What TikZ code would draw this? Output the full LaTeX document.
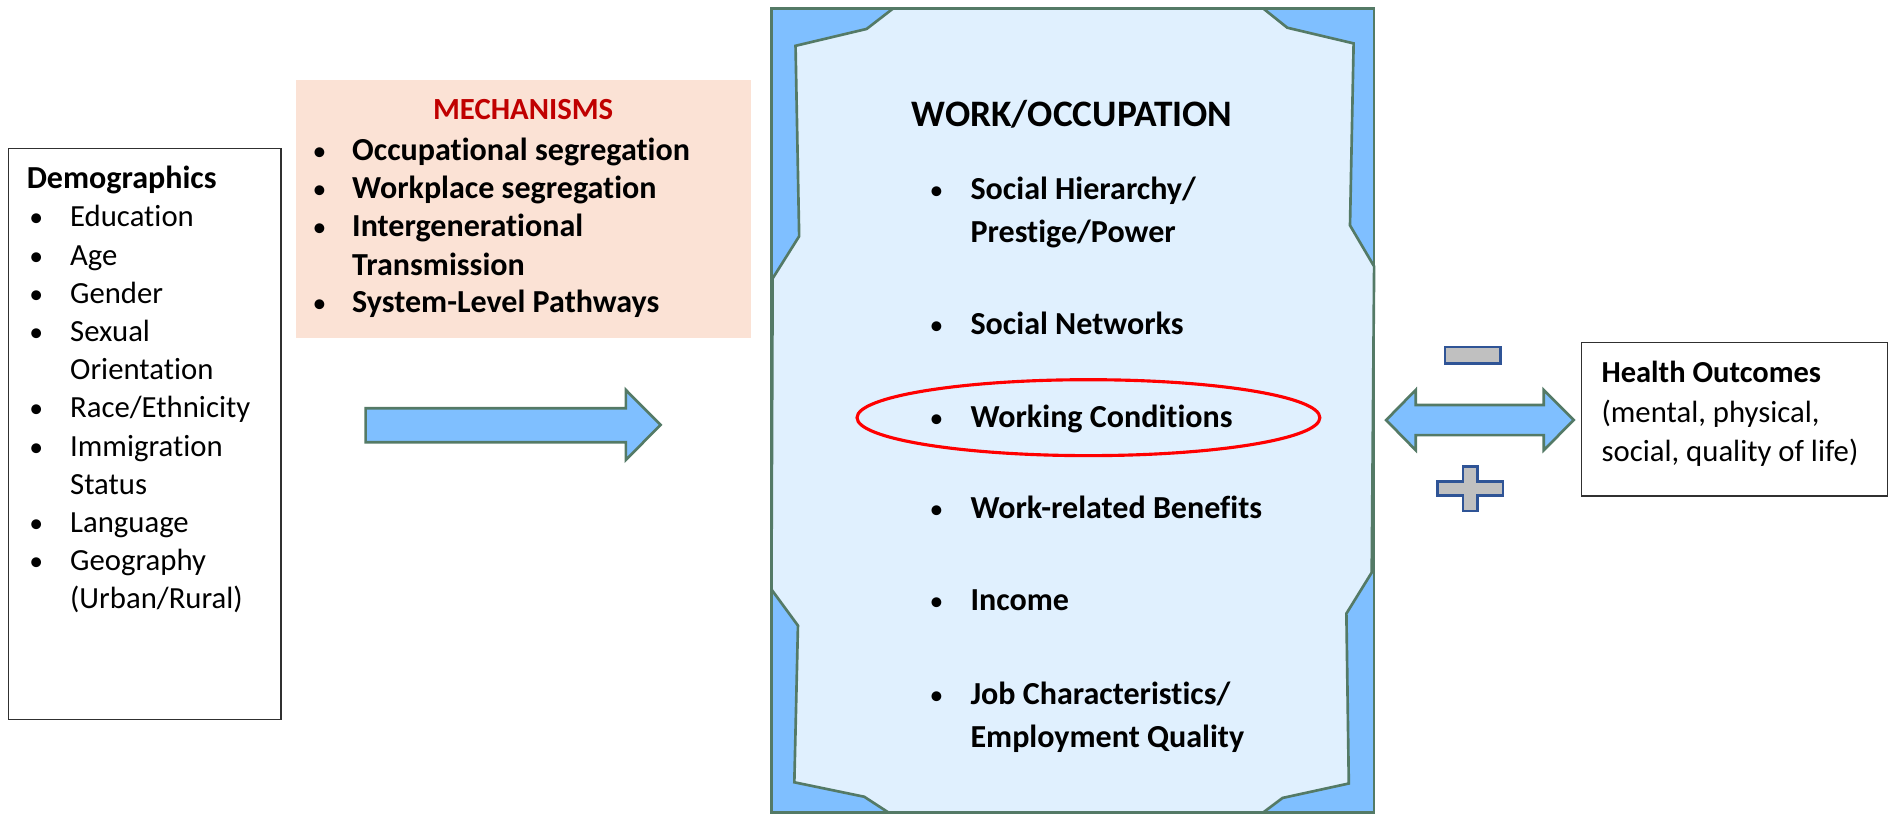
\documentclass[tikz,border=0pt]{standalone}
\usepackage{fontspec}
\setmainfont{Carlito}[Ligatures={NoCommon}]
\definecolor{peach}{HTML}{FBE2D5}
\definecolor{outerblue}{HTML}{7FBFFF}
\definecolor{innerblue}{HTML}{E0F0FE}
\definecolor{edgegreen}{HTML}{547A66}
\definecolor{signblue}{HTML}{2F5496}
\definecolor{signgray}{HTML}{C0C0C0}
\definecolor{mechred}{HTML}{C00000}
\definecolor{boxgray}{HTML}{303030}
\begin{document}
\begin{tikzpicture}[x=1pt,y=-1pt,
  txt/.style={inner sep=0pt, anchor=base west, font=\fontsize{25.5}{30}\selectfont},
  btxt/.style={inner sep=0pt, anchor=base west, font=\fontsize{26.6}{30}\selectfont\bfseries},
  htxt/.style={inner sep=0pt, anchor=base west, font=\fontsize{25.3}{30}\selectfont\bfseries},
  bul/.style={inner sep=0pt, anchor=base, font=\fontsize{23}{30}\selectfont},
  blockshape/.style={fill=outerblue, draw=edgegreen, line width=2.2pt, line join=miter},
  signshape/.style={fill=signgray, draw=signblue, line width=2pt, line join=miter},
  plainbox/.style={draw=boxgray, line width=1.2pt}]
\useasboundingbox (0,0) rectangle (1568,675.2);

% Demographics box
\draw[plainbox] (7,123) rectangle (233,597);
\node[btxt] (demotitle) at (22,156.5) {Demographics};
\foreach \t [count=\i] in {Education,Age,Gender,Sexual,Orientation,Race/Ethnicity,Immigration,Status,Language,Geography,(Urban/Rural)}{
  \node[txt] (demo\i) at (58,{156.5+\i*31.7}) {\t};
}
\foreach \i in {1,2,3,4,6,7,9,10}{
  \node[bul] (demob\i) at (30,{156.5+\i*31.7}) {•};
}

% Mechanisms box
\fill[peach] (245.5,66.4) rectangle (623,280.6);
\node[inner sep=0pt, anchor=base, text=mechred, font=\fontsize{25.5}{30}\selectfont\bfseries] (mechtitle) at (434,99.5) {MECHANISMS};
\node[btxt] (mech1) at (292,133.5) {Occupational segregation};
\node[btxt] (mech2) at (292,164.8) {Workplace segregation};
\node[btxt] (mech3) at (292,196.5) {Intergenerational};
\node[btxt] (mech4) at (292,228.2) {Transmission};
\node[btxt] (mech5) at (292,259.5) {System-Level Pathways};
\node[bul] (mechb1) at (265,133.5) {•};
\node[bul] (mechb2) at (265,164.8) {•};
\node[bul] (mechb3) at (265,196.5) {•};
\node[bul] (mechb5) at (265,259.5) {•};

% Right block arrow
\draw[blockshape] (303.3,338.7) -- (519.2,338.7) -- (519.2,323.5) -- (548,352.5)
  -- (519.2,381.6) -- (519.2,366.9) -- (303.3,366.9) -- cycle;

% Central plaque
\draw[blockshape] (640,7) rectangle (1140,674);
\draw[fill=innerblue, draw=edgegreen, line width=2.2pt, line join=miter]
  (741,7) -- (719,24) -- (660,38) -- (663,196) -- (641,231) -- (640,489)
  -- (662,519) -- (659,649) -- (717,661) -- (737,674) -- (1048,674)
  -- (1064,662) -- (1119,650) -- (1117,509) -- (1138,475) -- (1140,221)
  -- (1120,187) -- (1123,36) -- (1068,23) -- (1048,7) -- cycle;

\node[inner sep=0pt, anchor=base, font=\fontsize{31}{34}\selectfont\bfseries] (worktitle) at (889.5,105) {WORK/OCCUPATION};
\node[btxt] (w1) at (805,165.5) {Social Hierarchy/};
\node[btxt] (w1b) at (805,201.5) {Prestige/Power};
\node[btxt] (w2) at (805,277.5) {Social Networks};
\node[btxt] (w3) at (805,354.5) {Working Conditions};
\node[btxt] (w4) at (805,430.5) {Work-related Benefits};
\node[btxt] (w5) at (805,506.5) {Income};
\node[btxt] (w6) at (805,584.5) {Job Characteristics/};
\node[btxt] (w6b) at (805,620.5) {Employment Quality};
\foreach \y [count=\i] in {165.5,277.5,354.5,430.5,506.5,584.5}{
  \node[bul] (wb\i) at (777,\y) {•};
}

% Red ellipse
\draw[red, line width=2.6pt] (903,346.5) ellipse [x radius=192, y radius=31.5];

% Double arrow
\draw[blockshape] (1150,348.5) -- (1174.5,323.5) -- (1174.5,336) -- (1280.7,336)
  -- (1280.7,323.5) -- (1305.6,348.5) -- (1280.7,373.5) -- (1280.7,361)
  -- (1174.5,361) -- (1174.5,373.5) -- cycle;

% Minus and plus
\draw[signshape] (1198.6,287.8) rectangle (1244.8,301.4);
\draw[signshape] (1213.8,387) -- (1225.7,387) -- (1225.7,399.5) -- (1247,399.5)
  -- (1247,411) -- (1225.7,411) -- (1225.7,423.9) -- (1213.8,423.9)
  -- (1213.8,411) -- (1192.5,411) -- (1192.5,399.5) -- (1213.8,399.5) -- cycle;

% Health outcomes
\draw[plainbox] (1312,284.2) rectangle (1566,411.4);
\node[htxt] (h1) at (1328.5,317.5) {Health Outcomes};
\node[txt] (h2) at (1328.5,350.5) {(mental, physical,};
\node[txt] (h3) at (1328.5,382.5) {social, quality of life)};
\end{tikzpicture}
\end{document}
